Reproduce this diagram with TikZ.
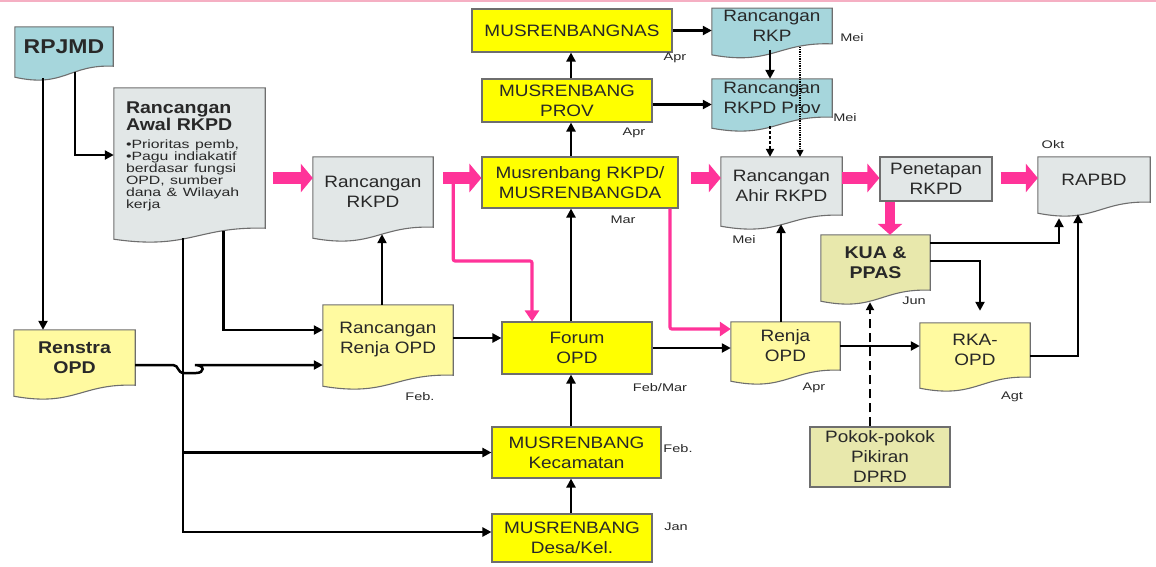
\documentclass[tikz,border=0pt]{standalone}
\usepackage{fontspec}
\setmainfont{Liberation Sans}[FakeStretch=1.15]
\newfontfamily\widefont{Liberation Sans}[FakeStretch=1.32]
\usetikzlibrary{arrows.meta, calc, backgrounds}
\definecolor{docblue}{RGB}{166,214,220}
\definecolor{docgray}{RGB}{226,231,231}
\definecolor{paleyellow}{RGB}{255,250,160}
\definecolor{musyellow}{RGB}{255,255,0}
\definecolor{khaki}{RGB}{232,232,172}
\definecolor{hotpink}{RGB}{255,51,153}
\definecolor{rulepink}{RGB}{245,175,195}
\definecolor{boxgray}{RGB}{110,110,110}
\definecolor{textdark}{RGB}{40,40,40}
\newcommand{\boxfont}{\fontsize{16.5}{20}\selectfont}
\newcommand{\headfont}{\bfseries\fontsize{17}{20}\selectfont}
\newcommand{\notefont}{\widefont\fontsize{12}{12}\selectfont}
\newcommand{\monthfont}{\widefont\fontsize{11}{12}\selectfont}

\begin{document}
\begin{tikzpicture}[x=1pt, y=-1pt,
    plain/.style={draw=boxgray, line width=1.1pt, align=center, font=\boxfont, text=textdark, inner sep=2pt},
    doc/.style={align=center, font=\boxfont, text=textdark, inner sep=2pt},
    arr/.style={-{Triangle[length=9pt,width=9pt]}, line width=2.5pt},
    fat/.style={-{Triangle[length=12pt,width=28pt]}, line width=12pt, hotpink},
    pinkarr/.style={-{Triangle[length=11pt,width=14pt]}, line width=3.2pt, hotpink, rounded corners=2pt},
    dotline/.style={-{Triangle[length=7pt,width=7pt]}, densely dotted, line width=1.3pt},
    dashline/.style={-{Triangle[length=8pt,width=8pt]}, dash pattern=on 3pt off 2pt, line width=2.6pt},
    pokdash/.style={-{Triangle[length=8pt,width=8pt]}, dash pattern=on 9pt off 5pt, line width=2.6pt},
    month/.style={font=\monthfont, text=textdark}]
    \useasboundingbox (0,0) rectangle (1156,566);
    \draw[rulepink, line width=1.5pt] (0,1) -- (1156,1);

    % Left column
    \node[doc, font=\bfseries\fontsize{20}{22}\selectfont, minimum width=98pt, minimum height=39pt] (rpjmd) at (64,46.5) {RPJMD};
    \node[doc, minimum width=151pt, minimum height=140pt, text width=127pt, inner xsep=12pt, align=left] (awal) at (189.5,158)
        {{\bfseries\fontsize{17}{17}\selectfont Rancangan\\Awal RKPD\par}\vspace{6pt}
         {\notefont •Prioritas pemb,\\•Pagu indiakatif\\berdasar fungsi\\OPD, sumber\\dana \& Wilayah\\kerja\par}\vspace*{4pt}};
    \node[doc, font=\headfont, minimum width=121pt, minimum height=55pt] (renstra) at (74.5,357.5) {Renstra\\OPD};
    \node[doc, minimum width=120pt, minimum height=70pt] (rkpd) at (373,192) {Rancangan\\RKPD};
    \node[doc, minimum width=130pt, minimum height=70pt] (renja1) at (388,340) {Rancangan\\Renja OPD};

    % Musrenbang column
    \node[plain, fill=musyellow, minimum width=200pt, minimum height=43pt] (nas) at (572,30.5) {MUSRENBANGNAS};
    \node[plain, fill=musyellow, minimum width=170pt, minimum height=43pt] (prov) at (567,100.5) {MUSRENBANG\\PROV};
    \node[plain, fill=musyellow, minimum width=196pt, minimum height=51pt] (musrkpd) at (580,182.5) {Musrenbang RKPD/\\MUSRENBANGDA};
    \node[plain, fill=musyellow, minimum width=150pt, minimum height=52pt] (forum) at (577,348) {Forum\\OPD};
    \node[plain, fill=musyellow, minimum width=169pt, minimum height=51pt] (kec) at (576.5,452.5) {MUSRENBANG\\Kecamatan};
    \node[plain, fill=musyellow, minimum width=160pt, minimum height=48pt] (desa) at (572,538) {MUSRENBANG\\Desa/Kel.};

    % Right part
    \node[doc, minimum width=120pt, minimum height=34pt] (rkp) at (772,26) {Rancangan\\RKP};
    \node[doc, minimum width=120pt, minimum height=38pt] (rkpdprov) at (772,98) {Rancangan\\RKPD Prov};
    \node[doc, minimum width=121pt, minimum height=58pt] (ahir) at (781.5,186) {Rancangan\\Ahir RKPD};
    \node[plain, fill=docgray, minimum width=112pt, minimum height=44pt] (penetapan) at (936,179) {Penetapan\\RKPD};
    \node[doc, minimum width=112pt, minimum height=45pt] (rapbd) at (1094,179.5) {RAPBD};
    \node[doc, font=\headfont, minimum width=109pt, minimum height=55pt] (kua) at (875.5,262.5) {KUA \&\\PPAS};
    \node[doc, minimum width=109pt, minimum height=48pt] (renjaopd) at (785.5,346) {Renja\\OPD};
    \node[doc, minimum width=110pt, minimum height=54pt] (rka) at (975,350) {RKA-\\OPD};
    \node[plain, fill=khaki, minimum width=140pt, minimum height=60pt] (pokok) at (880,457) {Pokok-pokok\\Pikiran\\DPRD};

    % Document shapes
    \begin{scope}[on background layer]
        \foreach \n/\c in {rpjmd/docblue, awal/docgray, renstra/paleyellow, rkpd/docgray, renja1/paleyellow,
                           rkp/docblue, rkpdprov/docblue, ahir/docgray, rapbd/docgray, kua/khaki,
                           renjaopd/paleyellow, rka/paleyellow} {
            \filldraw[draw=boxgray, line width=1.1pt, fill=\c] (\n.south east)
                .. controls ($(\n.south east)!0.45!(\n.south west)+(0,-2)$) and ($(\n.south east)!0.5!(\n.south west)+(0,22)$)
                .. ($(\n.south west)+(0,11)$) -- (\n.north west) -- (\n.north east) -- cycle;
        }
    \end{scope}

    % Months
    \node[month] (mnas) at (675,58) {Apr};
    \node[month] (mprov) at (634,133) {Apr};
    \node[month] (mmus) at (623,220) {Mar};
    \node[month] (mrkp) at (852,38) {Mei};
    \node[month] (mrkpdprov) at (845,118) {Mei};
    \node[month] (mahir) at (744,240) {Mei};
    \node[month] (mrapbd) at (1053,145) {Okt};
    \node[month] (mkua) at (914,301) {Jun};
    \node[month] (mrenja) at (814,388) {Apr};
    \node[month] (mrka) at (1012,397) {Agt};
    \node[month] (mforum) at (660,388) {Feb/Mar};
    \node[month] (mkec) at (678,449) {Feb.};
    \node[month] (mdesa) at (676,527) {Jan};
    \node[month] (mrenja1) at (420,397) {Feb.};

    % RPJMD and Awal RKPD
    \coordinate (rpjmdright) at ($(rpjmd.south)+(11,6)$);
    \coordinate (rpjmdleft) at ($(rpjmd.south)+(-21,12)$);
    \draw[arr] (rpjmdright) |- ($(awal.west)+(0,-3)$);
    \draw[arr] (rpjmdleft) -- (rpjmdleft |- renstra.north);
    \coordinate (awalright) at ($(awal.south)+(34,3)$);
    \coordinate (trunk) at ($(awal.south)+(-6.5,10)$);
    \draw[arr] (awalright) |- ($(renja1.west)+(0,-10)$);
    \draw[arr] (trunk) |- ($(desa.west)+(0,-6)$);
    \draw[arr] (trunk |- kec.west) -- (kec.west);

    % Renstra with hop
    \coordinate (renstraout) at ($(renstra.east)+(0,7.5)$);
    \coordinate (hop) at (trunk |- renstraout);
    \draw[arr] (renstraout) -- ($(hop)+(-10,0)$)
        .. controls ($(hop)+(-4,0)$) and ($(hop)+(-6,8)$) .. ($(hop)+(1,8)$) -- ($(hop)+(13,8)$)
        .. controls ($(hop)+(22,8)$) and ($(hop)+(22,0)$) .. ($(hop)+(12,0)$) -- (renstraout -| renja1.west);

    % Renja OPD draft
    \coordinate (renja1up) at ($(renja1.north)+(-6,0)$);
    \draw[arr] (renja1up) -- ($(renja1up |- rkpd.south)+(0,7)$);
    \coordinate (renja1out) at ($(renja1.east)+(0,-2)$);
    \draw[arr] (renja1out) -- (renja1out -| forum.west);

    % Musrenbang spine
    \coordinate (spine) at (571,0);
    \draw[arr] (desa.north -| spine) -- (kec.south -| spine);
    \draw[arr] (kec.north -| spine) -- (forum.south -| spine);
    \draw[arr] (forum.north -| spine) -- (musrkpd.south -| spine);
    \draw[arr] (musrkpd.north -| spine) -- (prov.south -| spine);
    \draw[arr] (prov.north -| spine) -- (nas.south -| spine);

    % Forum, Renja, Ahir
    \draw[arr] (forum.east) -- (forum.east -| renjaopd.west);
    \coordinate (renjaup) at ($(renjaopd.north)+(-4.5,0)$);
    \draw[arr] (renjaup) -- ($(renjaup |- ahir.south)+(0,9)$);

    % National and province
    \draw[arr] (nas.east) -- (nas.east -| rkp.west);
    \coordinate (provout) at ($(prov.east)+(0,4)$);
    \draw[arr] (provout) -- (provout -| rkpdprov.west);
    \draw[arr] ($(rkp.south)+(-2,6)$) -- ($(rkpdprov.north)+(-2,0)$);
    \coordinate (rkpdot) at ($(rkp.south)+(28,3)$);
    \draw[dotline] (rkpdot) -- (rkpdot |- ahir.north);
    \coordinate (provdot) at ($(rkpdprov.south)+(-2,9)$);
    \draw[dashline] (provdot) -- (provdot |- ahir.north);

    % Pink lines
    \coordinate (fatrow) at (0,178);
    \coordinate (pinkstart) at ($(rkpd.east |- fatrow)+(20,6)$);
    \draw[pinkarr] (pinkstart) -- ++(0,77) -| ($(forum.north)+(-45,0)$);
    \draw[pinkarr] ($(musrkpd.south)+(90,0)$) |- ($(renjaopd.west)+(0,-17)$);

    % Fat arrows
    \draw[fat, shorten <=8pt] (awal.east |- fatrow) -- (rkpd.west |- fatrow);
    \draw[fat, shorten <=10pt] (rkpd.east |- fatrow) -- (musrkpd.west |- fatrow);
    \draw[fat, shorten <=12pt] (musrkpd.east |- fatrow) -- (ahir.west |- fatrow);
    \draw[fat] (ahir.east |- fatrow) -- (penetapan.west |- fatrow);
    \draw[fat, shorten <=8pt] (penetapan.east |- fatrow) -- (rapbd.west |- fatrow);
    \coordinate (ppasdrop) at ($(penetapan.south)+(-46,0)$);
    \draw[fat, line width=10pt, -{Triangle[length=11pt,width=24pt]}] (ppasdrop) -- (ppasdrop |- kua.north);

    % KUA, RKA, RAPBD
    \draw[arr] ($(kua.north east)+(0,8)$) -| ($(rapbd.south)+(-35,16)$);
    \draw[arr, shorten >=12pt] ($(kua.north east)+(0,26)$) -| ($(rka.north)+(5,0)$);
    \draw[arr] (renjaopd.east) -- (renjaopd.east -| rka.west);
    \draw[arr] ($(rka.east)+(0,6)$) -| ($(rapbd.south)+(-16,12)$);
    \coordinate (pokup) at ($(pokok.north)+(-10,0)$);
    \draw[pokdash] (pokup) -- ($(pokup |- kua.south)+(0,12)$);
\end{tikzpicture}
\end{document}
